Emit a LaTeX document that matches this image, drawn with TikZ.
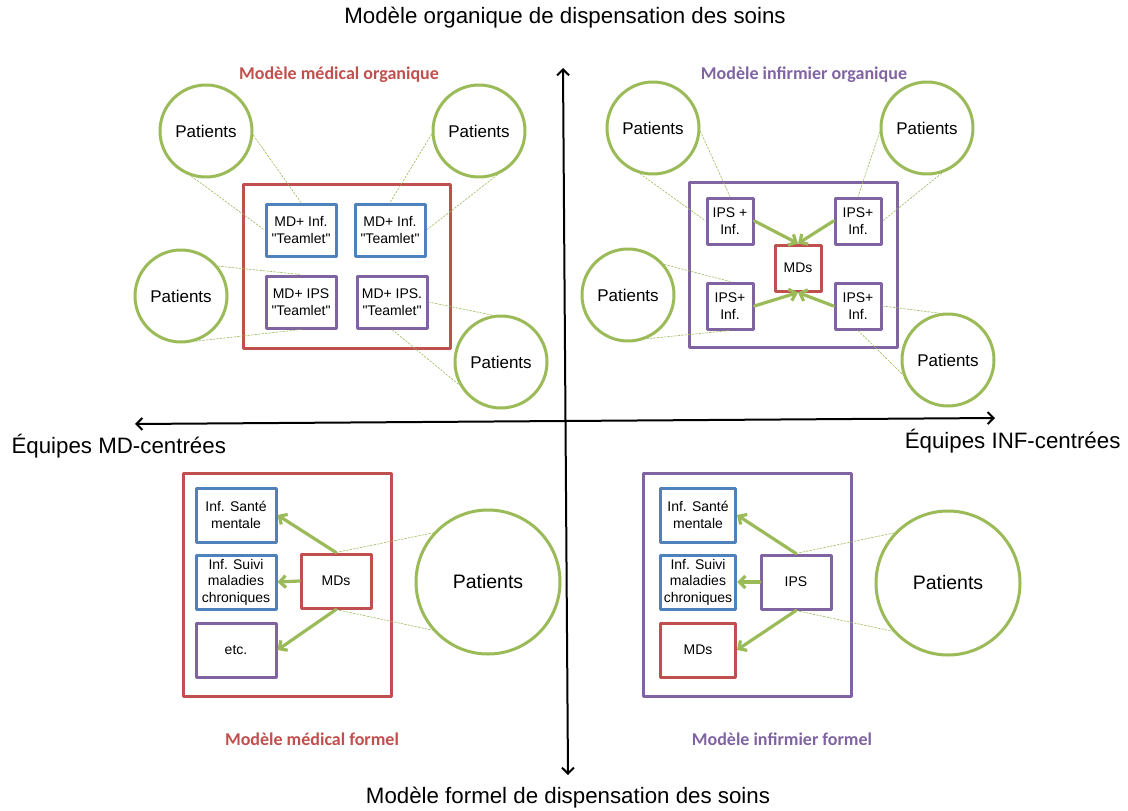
\documentclass[tikz,border=0pt]{standalone}
\usepackage{fontspec}
\setmainfont[Ligatures=TeXReset]{Liberation Sans}
\newfontfamily\titlefont{Carlito}
\usetikzlibrary{arrows.meta}
\definecolor{RedBox}{HTML}{C0504D}
\definecolor{BlueBox}{HTML}{4F81BD}
\definecolor{PurpleBox}{HTML}{8064A2}
\definecolor{GreenLine}{HTML}{9BBB59}

\begin{document}
\begin{tikzpicture}[
  x=1pt, y=-1pt,
  line cap=round, line join=round,
  patient/.style={circle, draw=GreenLine, line width=3pt, fill=white,
    minimum size=92pt, inner sep=0pt, font=\fontsize{17}{19}\selectfont},
  bigpatient/.style={patient, minimum size=144pt, font=\fontsize{19.5}{22}\selectfont},
  teamlet/.style={draw, line width=3pt, fill=white, minimum width=70pt,
    minimum height=52pt, inner sep=1pt, align=center, font=\fontsize{14}{16.5}\selectfont},
  ipsbox/.style={teamlet, minimum width=46pt, minimum height=46pt},
  formbox/.style={teamlet, minimum width=80pt, minimum height=54pt},
  zone/.style={line width=3pt},
  flow/.style={GreenLine, line width=3.2pt, -{Straight Barb[length=6pt,width=12pt]}},
  link/.style={GreenLine, line width=0.6pt, dash pattern=on 2pt off 1.5pt},
  axis/.style={black, line width=2pt,
    {Straight Barb[length=6pt,width=12pt]}-{Straight Barb[length=6pt,width=12pt]}},
  quadtitle/.style={font=\titlefont\bfseries\fontsize{18}{20}\selectfont},
  axislabel/.style={font=\fontsize{22.3}{25}\selectfont}
]
\useasboundingbox (0,0) rectangle (1128,811);

% === Axes ===
\coordinate (top) at (563,68);
\coordinate (bottom) at (568,775);
\coordinate (left) at (135,424);
\coordinate (right) at (995,418);
\draw[axis] (top) -- (bottom);
\draw[axis] (left) -- (right);

\node[axislabel] (organique) at (565,18) {Modèle organique de dispensation des soins};
\node[axislabel] (formel) at (568,798) {Modèle formel de dispensation des soins};
\node[axislabel, anchor=west] (mdcentre) at (8,446) {Équipes MD-centrées};
\node[axislabel, anchor=east] (infcentre) at (1124,441) {Équipes INF-centrées};

% === Modèle médical organique ===
\node[quadtitle, text=RedBox] (t1) at (339,75) {Modèle médical organique};
\draw[zone, RedBox] (243,184) rectangle (450,348);
\node[teamlet, draw=BlueBox] (mi1) at (301,230) {MD+ Inf.\\"Teamlet"};
\node[teamlet, draw=BlueBox] (mi2) at (390,230) {MD+ Inf.\\"Teamlet"};
\node[teamlet, draw=PurpleBox] (mi3) at (301,302) {MD+ IPS\\"Teamlet"};
\node[teamlet, draw=PurpleBox] (mi4) at (392,302) {MD+ IPS.\\"Teamlet"};

\foreach \nm/\x/\y in {pa1/206/131, pa2/479/131, pa3/181/296, pa4/501/362}
  \node[patient] (\nm) at (\x,\y) {Patients};

\draw[link] (pa1.-5) -- (mi1.north);
\draw[link] (pa1.-108) -- (mi1.west);
\draw[link] (pa2.184) -- (mi2.north);
\draw[link] (pa2.-67) -- (mi2.east);
\draw[link] (pa3.39) -- (mi3.north);
\draw[link] (pa3.-72) -- (mi3.south);
\draw[link] (mi4.east) -- (pa4.100);
\draw[link] (mi4.south) -- (pa4.209);

% === Modèle infirmier organique ===
\node[quadtitle, text=PurpleBox] (t2) at (804,75) {Modèle infirmier organique};
\draw[zone, PurpleBox] (689,182) rectangle (897,347);
\node[ipsbox, draw=PurpleBox] (ii1) at (730,221) {IPS +\\Inf.};
\node[ipsbox, draw=PurpleBox] (ii2) at (858,221) {IPS+\\Inf.};
\node[ipsbox, draw=PurpleBox] (ii3) at (730,306) {IPS+\\Inf.};
\node[ipsbox, draw=PurpleBox] (ii4) at (858,306) {IPS+\\Inf.};
\node[ipsbox, draw=RedBox] (md) at (798,268) {MDs};

\draw[flow] (ii1.east) -- (md.north);
\draw[flow] (ii2.west) -- (md.north);
\draw[flow] (ii3.east) -- (md.south);
\draw[flow] (ii4.west) -- (md.south);

\foreach \nm/\x/\y in {pb1/653/128, pb2/927/128, pb3/628/295, pb4/948/360}
  \node[patient] (\nm) at (\x,\y) {Patients};

\draw[link] (pb1.-4) -- (ii1.north);
\draw[link] (pb1.-106) -- (ii1.west);
\draw[link] (pb2.185) -- (ii2.north);
\draw[link] (pb2.-72) -- (ii2.east);
\draw[link] (pb3.40) -- (ii3.north);
\draw[link] (pb3.-67) -- (ii3.south);
\draw[link] (ii4.east) -- (pb4.100);
\draw[link] (ii4.south) -- (pb4.198);

% === Modèle médical formel ===
\draw[zone, RedBox] (183,473) rectangle (391,696);
\node[formbox, draw=BlueBox] (ms1) at (236,515) {Inf. Santé\\mentale};
\node[formbox, draw=BlueBox] (ms2) at (236,582) {Inf. Suivi\\maladies\\chroniques};
\node[formbox, draw=PurpleBox] (ms3) at (236,650) {etc.};
\node[formbox, draw=RedBox, minimum width=70pt] (mmd) at (336,581) {MDs};
\node[bigpatient] (pc) at (488,582) {Patients};

\draw[flow] (mmd.north) -- (ms1.east);
\draw[flow] (mmd.west) -- (ms2.east);
\draw[flow] (mmd.south) -- (ms3.east);
\draw[link] (mmd.north) -- (pc.138);
\draw[link] (mmd.south) -- (pc.221);
\node[quadtitle, text=RedBox] (t3) at (312,739) {Modèle médical formel};

% === Modèle infirmier formel ===
\draw[zone, PurpleBox] (643,473) rectangle (851,696);
\node[formbox, draw=BlueBox, minimum width=75pt] (is1) at (698,515) {Inf. Santé\\mentale};
\node[formbox, draw=BlueBox, minimum width=75pt] (is2) at (698,582) {Inf. Suivi\\maladies\\chroniques};
\node[formbox, draw=RedBox, minimum width=75pt] (is3) at (698,650) {MDs};
\node[formbox, draw=PurpleBox, minimum width=70pt] (ips) at (796,582) {IPS};
\node[bigpatient] (pd) at (948,583) {Patients};

\draw[flow] (ips.north) -- (is1.east);
\draw[flow] (ips.west) -- (is2.east);
\draw[flow] (ips.south) -- (is3.east);
\draw[link] (ips.north) -- (pd.137);
\draw[link] (ips.south) -- (pd.221);
\node[quadtitle, text=PurpleBox] (t4) at (782,739) {Modèle infirmier formel};

\end{tikzpicture}
\end{document}
